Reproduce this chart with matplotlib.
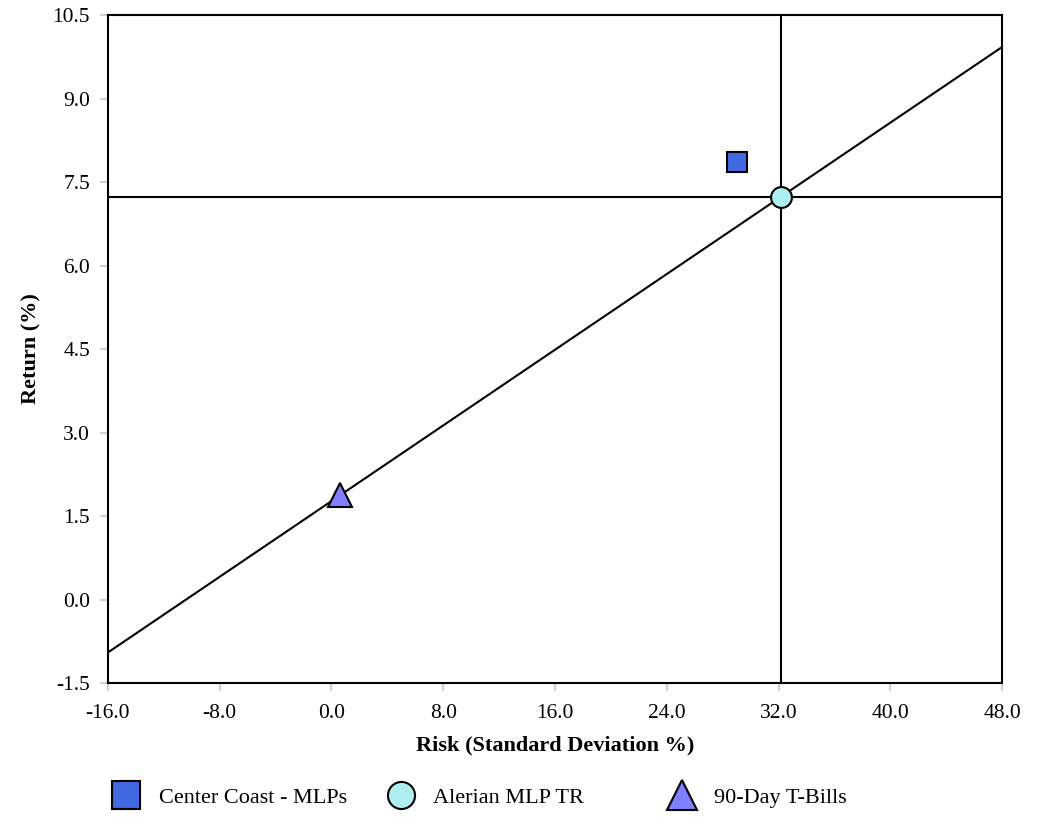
import matplotlib
matplotlib.use("Agg")
import matplotlib.pyplot as plt
import numpy as np

# risk / return data
names = ["Center Coast - MLPs", "Alerian MLP TR", "90-Day T-Bills"]
risk = [29.0, 32.2, 0.6]
ret = [7.86, 7.24, 1.87]
markers = ["s", "o", "^"]
colors = ["#4169E1", "#AEEEEE", "#7F7FFF"]
sizes = [15, 15, 17]

xticks = [-16.0, -8.0, 0.0, 8.0, 16.0, 24.0, 32.0, 40.0, 48.0]
yticks = [-1.5, 0.0, 1.5, 3.0, 4.5, 6.0, 7.5, 9.0, 10.5]

plt.rcParams['font.family'] = ['Liberation Serif', 'DejaVu Serif']

fig = plt.figure(figsize=(10.4, 8.17), dpi=100)
ax = fig.add_axes([0.1038, 0.164, 0.8597, 0.8176])

# capital market line through T-bills and the benchmark
rf_x, rf_y = risk[2], ret[2]
bm_x, bm_y = risk[1], ret[1]
slope = (bm_y - rf_y) / (bm_x - rf_x)
lx = np.array([xticks[0], xticks[-1]])
ax.plot(lx, rf_y + slope * (lx - rf_x), color="black", lw=1.5, zorder=2)

# benchmark cross-hairs
ax.axvline(bm_x, color="black", lw=1.5, zorder=2)
ax.axhline(bm_y, color="black", lw=1.5, zorder=2)

handles = []
for i in range(len(names)):
    h, = ax.plot(risk[i], ret[i], marker=markers[i], color=colors[i], markersize=sizes[i],
                 markeredgecolor="black", markeredgewidth=1.5, linestyle="none",
                 label=names[i], zorder=3)
    handles.append(h)

ax.set_xlim(xticks[0], xticks[-1])
ax.set_ylim(yticks[0], yticks[-1])
ax.set_xticks(xticks)
ax.set_yticks(yticks)
ax.set_xticklabels(["%.1f" % v for v in xticks])
ax.set_yticklabels(["%.1f" % v for v in yticks])
ax.tick_params(axis="both", color="#d0d0d0", length=6, width=1.5, labelsize=15.5)
ax.tick_params(axis="x", pad=9)
ax.tick_params(axis="y", pad=7)
for s in ax.spines.values():
    s.set_linewidth(1.5)

ax.set_xlabel("Risk (Standard Deviation %)", fontsize=16, fontweight="bold", labelpad=9)
ax.set_ylabel("Return (%)", fontsize=16, fontweight="bold", labelpad=8)

# legend entries sit at fixed positions along the bottom
leg_x = [0.1087, 0.373, 0.643]
for i in range(len(handles)):
    leg = fig.legend([handles[i]], [names[i]], loc="center left",
                     bbox_to_anchor=(leg_x[i], 0.024), frameon=False,
                     fontsize=16, handlelength=1.2, handletextpad=0.85,
                     borderpad=0, borderaxespad=0, markerscale=1.3)

fig.savefig("out.png", dpi=100)
